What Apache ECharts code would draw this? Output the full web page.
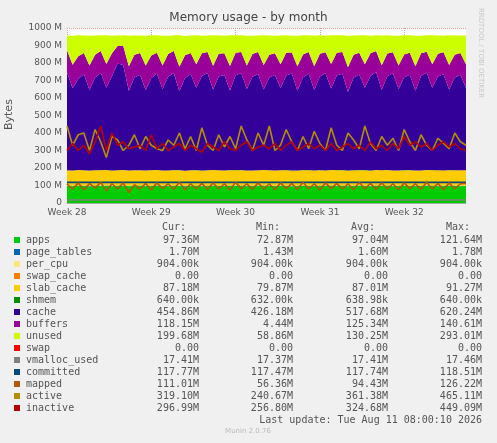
<!DOCTYPE html>
<html><head><meta charset="utf-8">
<script src="https://cdn.jsdelivr.net/npm/echarts@6/dist/echarts.min.js"></script>
<style>html,body{margin:0;padding:0;background:#f0f0f0}#c{width:497px;height:443px}</style>
</head><body><div id="c"></div>
<script>
var weekLabels = ['Week 28', 'Week 29', 'Week 30', 'Week 31', 'Week 32'];
var yTicks = [0, 100, 200, 300, 400, 500, 600, 700, 800, 900, 1000];

// values in MB, 72 samples over ~4.7 weeks
var apps = [97,96,98,97,95,98,97,99,96,97,98,96, 97,98,96,97,99,97,96,98,97,95,97,98,
            96,97,98,97,96,99,97,98,96,97,97,98, 97,96,98,97,95,97,98,97,96,98,97,99,
            97,98,96,97,98,97,96,99,97,98,96,97, 98,97,96,97,99,98,96,97,98,97,96,97];
var pageTables = [];
var perCpu = [];
var swapCache = [];
var slab = [87,86,88,87,87,86,88,87,86,87,88,87, 87,86,87,88,87,86,87,87,88,86,87,87,
            86,87,88,87,87,86,88,87,87,86,87,88, 87,87,86,88,87,86,87,88,87,87,86,87,
            88,87,86,87,87,88,86,87,87,88,87,86, 87,88,87,86,87,87,88,86,87,87,88,87];
var shmem = [];
var cache = [560,470,520,550,460,530,555,470,540,610,600,455,
             530,545,460,525,550,465,535,555,450,530,550,470,
             540,555,460,535,545,455,540,555,465,535,550,460,
             530,545,470,540,555,455,530,550,460,535,555,465,
             540,550,450,530,545,470,540,560,460,535,555,465,
             530,545,455,540,555,470,535,550,460,530,545,470];
var buffers = [125,135,130,120,140,130,125,135,130,100,110,140,
               130,125,140,130,120,135,130,125,140,130,120,135,
               130,120,135,130,125,140,130,120,135,130,125,140,
               130,125,135,130,120,140,130,125,135,130,120,140,
               130,125,140,130,125,135,130,120,140,130,120,135,
               130,125,140,130,120,135,130,125,140,130,125,135];
var unused = [85,165,120,100,170,110,90,165,100,60,60,175,
              110,100,170,115,100,170,105,90,180,110,100,165,
              100,95,175,105,100,175,100,95,170,105,95,170,
              110,100,165,100,95,175,110,95,175,105,95,165,
              100,95,180,110,100,165,100,90,170,105,95,170,
              110,100,175,100,95,165,105,95,170,110,100,165];
var active = [440,330,390,400,300,420,350,260,380,360,300,330,
              390,310,380,330,310,300,360,330,400,310,380,300,
              430,330,300,390,320,380,310,440,360,300,400,330,
              440,300,330,420,350,300,380,310,410,340,300,430,
              330,300,400,360,310,440,340,300,380,330,370,300,
              420,350,300,390,330,300,370,340,310,400,350,330];
var inactive = [300,340,300,330,280,350,440,300,400,330,350,310,
                320,330,300,390,310,340,300,320,340,300,330,310,
                290,340,320,300,350,310,300,330,350,300,320,330,
                310,340,300,330,350,300,320,340,310,330,300,340,
                300,320,340,310,330,300,350,310,330,300,340,310,
                380,330,350,320,340,300,330,350,320,340,310,300];
var mapped = [110,80,115,75,112,85,118,70,110,80,115,60,
              105,80,112,75,115,82,110,78,118,75,110,80,
              112,78,115,80,110,75,118,82,110,78,115,80,
              110,76,115,82,112,78,118,80,110,75,115,82,
              112,80,110,75,118,80,112,78,115,80,110,76,
              115,82,110,78,118,80,112,76,115,80,110,111];
var vmalloc = [], committed = [], swap = [];
for (var i = 0; i < cache.length; i++) {
  pageTables.push(1.7); perCpu.push(0.9); swapCache.push(0); shmem.push(0.64);
  vmalloc.push(17.41); committed.push(117.7); swap.push(0);
}

var names = ['apps','page_tables','per_cpu','swap_cache','slab_cache','shmem','cache','buffers','unused','swap','vmalloc_used','committed','mapped','active','inactive'];
var colors = ['#00CC00','#0066B3','#FFE680','#FF8000','#FFCC00','#008F00','#330099','#990099','#CCFF00','#FF0000','#808080','#00487D','#B35A00','#B38F00','#B30000'];
var curV = ['97.36M','1.70M','904.00k','0.00','87.18M','640.00k','454.86M','118.15M','199.68M','0.00','17.41M','117.77M','111.01M','319.10M','296.99M'];
var minV = ['72.87M','1.43M','904.00k','0.00','79.87M','632.00k','426.18M','4.44M','58.86M','0.00','17.37M','117.47M','56.36M','240.67M','256.80M'];
var avgV = ['97.04M','1.60M','904.00k','0.00','87.01M','638.98k','517.68M','125.34M','130.25M','0.00','17.41M','117.74M','94.43M','361.38M','324.68M'];
var maxV = ['121.64M','1.78M','904.00k','0.00','91.27M','640.00k','620.24M','140.61M','293.01M','0.00','17.46M','118.51M','126.22M','465.11M','449.09M'];

var areaData = [apps, pageTables, perCpu, swapCache, slab, shmem, cache, buffers, unused, swap];
var lineData = [vmalloc, committed, mapped, active, inactive];
var cats = cache.map(function (v, i) { return i; });

var series = [];
areaData.forEach(function (d, k) {
  series.push({ name: names[k], type: 'line', stack: 'mem', data: d, symbol: 'none',
    lineStyle: { width: 0 }, areaStyle: { color: colors[k], opacity: 1 }, itemStyle: { color: colors[k] } });
});
lineData.forEach(function (d, k) {
  series.push({ name: names[10 + k], type: 'line', data: d, symbol: 'none',
    lineStyle: { width: 1.6, color: colors[10 + k] }, itemStyle: { color: colors[10 + k] }, z: 5 });
});

var mono = 'DejaVu Sans Mono';
var graphic = [];
var heads = [['Cur:', 186], ['Min:', 280], ['Avg:', 375], ['Max:', 470]];
heads.forEach(function (h) {
  graphic.push({ type: 'text', right: 497 - h[1], top: 222, style: { text: h[0], font: '10px ' + mono, fill: '#555', textAlign: 'right' } });
});
names.forEach(function (n, k) {
  var y = 235 + k * 12;
  graphic.push({ type: 'rect', shape: { x: 14, y: y + 2, width: 6, height: 6 }, style: { fill: colors[k] } });
  graphic.push({ type: 'text', x: 26, y: y, style: { text: n, font: '10px ' + mono, fill: '#555' } });
  [[curV, 199], [minV, 293], [avgV, 388], [maxV, 482]].forEach(function (c) {
    graphic.push({ type: 'text', x: c[1], y: y, style: { text: c[0][k], font: '10px ' + mono, fill: '#555', align: 'right' } });
  });
});
graphic.push({ type: 'text', x: 482, y: 415, style: { text: 'Last update: Tue Aug 11 08:00:10 2026', font: '10px ' + mono, fill: '#555', align: 'right' } });
graphic.push({ type: 'text', x: 248, y: 428, style: { text: 'Munin 2.0.76', font: '7px DejaVu Sans', fill: '#bbb', align: 'center' } });
graphic.push({ type: 'text', x: 484, y: 8, rotation: -Math.PI / 2, style: { text: 'RRDTOOL / TOBI OETIKER', font: '7px DejaVu Sans', fill: '#c8c8c8' } });
graphic.push({ type: 'text', x: 4, y: 130, rotation: Math.PI / 2, style: { text: 'Bytes', font: '11px DejaVu Sans', fill: '#555' } });

var chart = echarts.init(document.getElementById('c'));
chart.setOption({
  backgroundColor: '#f0f0f0',
  animation: false,
  title: { text: 'Memory usage - by month', left: 'center', top: 7,
    textStyle: { fontFamily: 'DejaVu Sans', fontSize: 12, fontWeight: 'normal', color: '#444' } },
  grid: { left: 67, right: 31, top: 28, bottom: 240, backgroundColor: '#fff', show: true, borderWidth: 0 },
  xAxis: { type: 'category', data: cats, boundaryGap: false,
    axisLine: { lineStyle: { color: '#aaa' } },
    axisTick: { show: false },
    axisLabel: { interval: function (i) { return i % 15 === 0; }, formatter: function (v, i) { return weekLabels[i / 15]; },
      fontFamily: 'DejaVu Sans', fontSize: 9, color: '#555', margin: 5 },
    splitLine: { show: true, interval: function (i) { return i % 15 === 0; }, lineStyle: { type: 'dotted', color: '#e09a9a' } } },
  yAxis: { type: 'value', min: 0, max: 1000, interval: 100,
    axisLine: { show: false }, axisTick: { show: false },
    axisLabel: { formatter: function (v) { return yTicks.indexOf(v) >= 0 && v > 0 ? v + ' M' : '0'; },
      fontFamily: 'DejaVu Sans', fontSize: 9, color: '#555', margin: 5 },
    splitLine: { lineStyle: { type: 'dotted', color: '#e09a9a' } } },
  series: series,
  graphic: graphic
});
</script></body></html>
